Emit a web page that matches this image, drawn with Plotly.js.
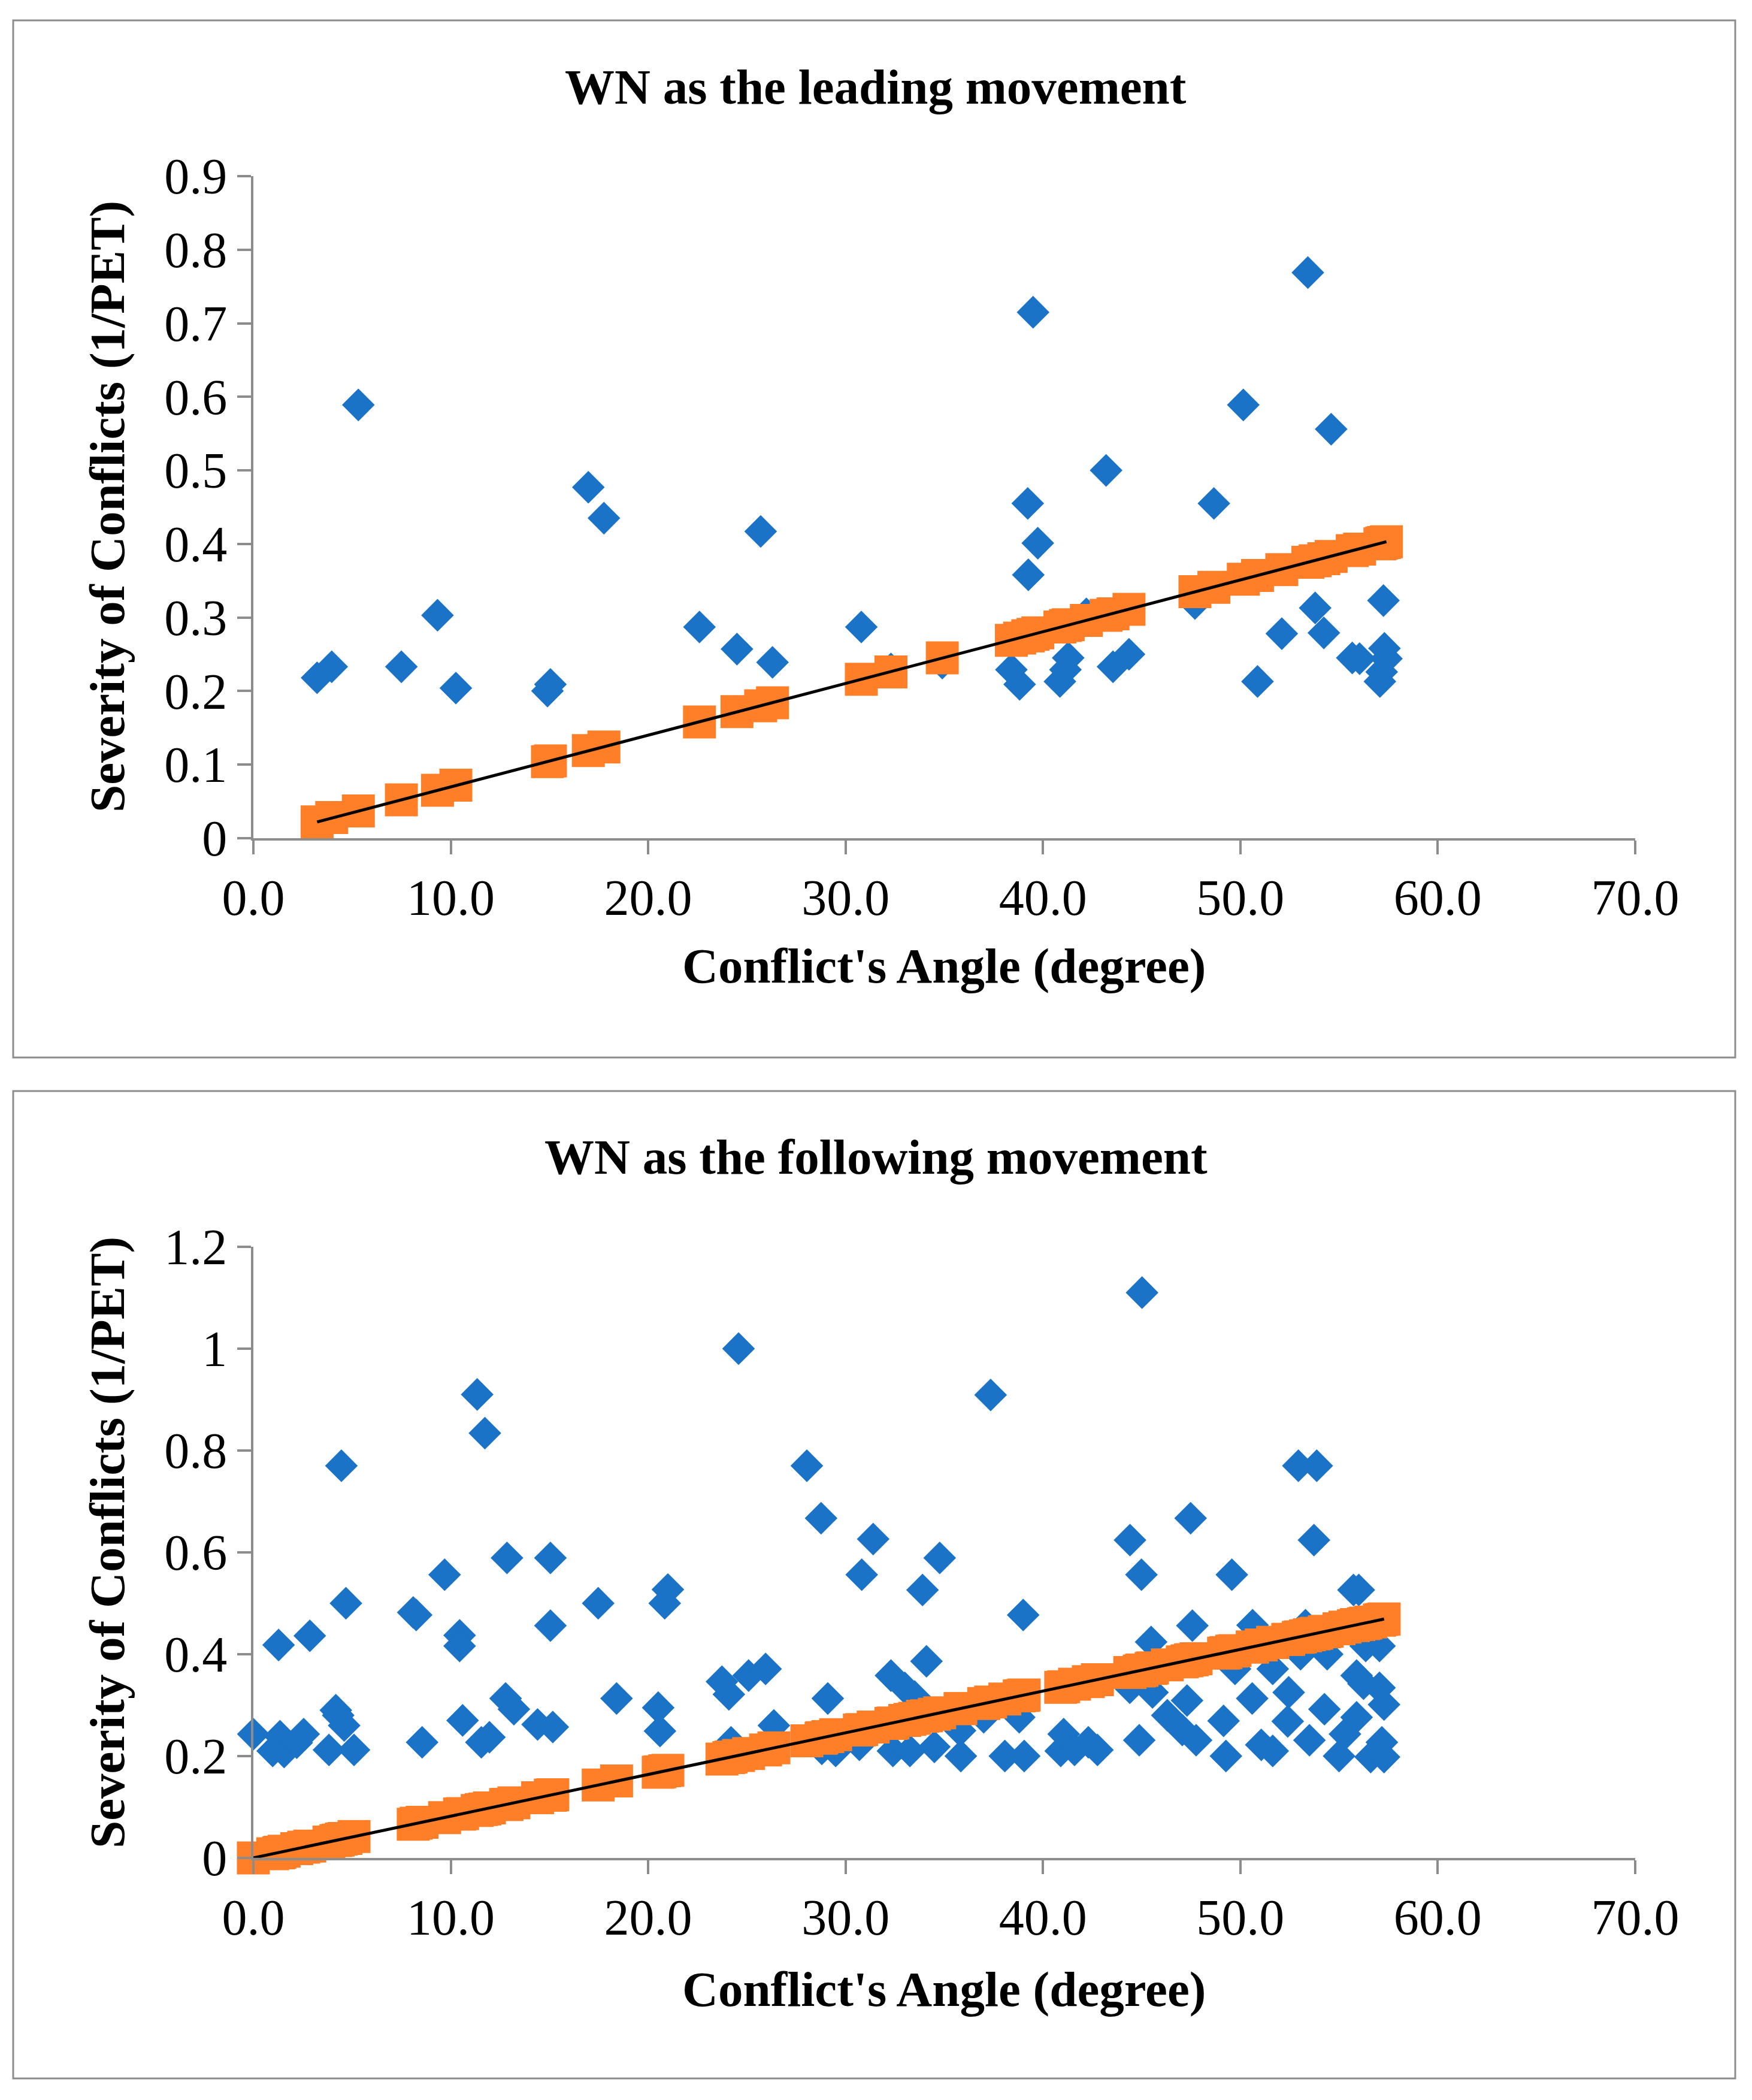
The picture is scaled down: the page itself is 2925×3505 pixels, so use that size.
<!DOCTYPE html>
<html>
<head>
<meta charset="utf-8">
<script src="https://cdn.plot.ly/plotly-3.0.1.min.js"></script>
<style>
  body { margin: 0; background: #fff; }
  #chart { width: 2925px; height: 3505px; }
</style>
</head>
<body>
<div id="chart"></div>
<script>
// top chart: WN as the leading movement
var leadAngle = [3.23, 3.97, 5.32, 7.5, 9.33, 10.26, 14.9, 15.05, 16.97, 17.76,
    22.6, 24.5, 25.7, 26.3, 30.8, 32.3, 34.9, 38.4, 38.82, 39.23,
    39.26, 39.5, 39.74, 40.86, 41.14, 41.28, 42.2, 43.2, 43.55, 44.36,
    47.7, 48.66, 50.15, 50.87, 52.1, 53.42, 53.79, 54.23, 54.6, 55.67,
    56.04, 57.07, 57.16, 57.25, 57.3, 57.4];
var leadSeverity = [0.218, 0.233, 0.589, 0.233, 0.303, 0.204, 0.2, 0.209, 0.477, 0.435,
    0.287, 0.257, 0.417, 0.239, 0.287, 0.23, 0.238, 0.229, 0.209, 0.455,
    0.358, 0.715, 0.401, 0.213, 0.229, 0.245, 0.305, 0.5, 0.233, 0.25,
    0.319, 0.455, 0.589, 0.213, 0.278, 0.769, 0.313, 0.279, 0.556, 0.245,
    0.244, 0.213, 0.226, 0.323, 0.258, 0.244];
var leadPredicted = [0.022, 0.028, 0.037, 0.052, 0.065, 0.072, 0.104, 0.105, 0.119, 0.124,
    0.158, 0.172, 0.180, 0.184, 0.216, 0.226, 0.245, 0.269, 0.272, 0.275,
    0.275, 0.277, 0.279, 0.287, 0.289, 0.290, 0.296, 0.303, 0.305, 0.311,
    0.335, 0.341, 0.352, 0.357, 0.365, 0.375, 0.377, 0.380, 0.383, 0.391,
    0.393, 0.400, 0.401, 0.402, 0.402, 0.403];
var leadTrendX = [3.23, 57.4];
var leadTrendY = [0.022, 0.403];

// bottom chart: WN as the following movement
var followAngle = [0, 1.28, 0.98, 1.56, 1.35, 2.2, 2.55, 2.86, 3.83, 4.18,
    4.3, 4.46, 4.6, 4.69, 5.1, 8.1, 8.25, 8.55, 9.69, 10.45,
    10.45, 10.6, 11.34, 11.73, 11.55, 11.96, 12.85, 12.78, 13.2, 14.4,
    15.05, 15.05, 15.17, 17.47, 18.4, 20.51, 20.6, 20.84, 21.0, 23.74,
    24.09, 24.2, 24.58, 25.09, 25.95, 26.37, 28.04, 28.76, 29.1, 28.8,
    29.5, 30.82, 30.7, 31.4, 32.3, 32.4, 33.0, 33.26, 33.5, 33.9,
    34.1, 34.5, 34.77, 35.84, 35.8, 37.0, 37.35, 38.07, 38.8, 39.0,
    39.05, 40.9, 41.05, 41.6, 42.3, 42.76, 44.4, 44.41, 44.88, 44.99,
    45.02, 45.48, 45.55, 46.3, 47.06, 47.3, 47.48, 47.57, 47.76, 49.15,
    49.27, 49.57, 49.73, 50.6, 50.62, 51.06, 51.64, 51.64, 52.4, 52.45,
    52.94, 53.05, 53.3, 53.5, 53.73, 53.87, 54.26, 54.4, 55.0, 55.3,
    55.73, 56.0, 55.89, 55.89, 56.24, 56.35, 56.6, 57.05, 57.05, 57.17,
    57.28, 57.28];
var followSeverity = [0.243, 0.418, 0.21, 0.208, 0.239, 0.226, 0.243, 0.436, 0.212, 0.29,
    0.28, 0.77, 0.26, 0.5, 0.212, 0.482, 0.477, 0.227, 0.556, 0.437,
    0.416, 0.27, 0.91, 0.834, 0.227, 0.237, 0.589, 0.313, 0.292, 0.262,
    0.589, 0.456, 0.257, 0.5, 0.313, 0.295, 0.249, 0.5, 0.527, 0.346,
    0.321, 0.227, 1.0, 0.358, 0.371, 0.26, 0.77, 0.667, 0.313, 0.214,
    0.21, 0.556, 0.222, 0.626, 0.358, 0.21, 0.334, 0.21, 0.317, 0.526,
    0.386, 0.218, 0.589, 0.2, 0.25, 0.276, 0.909, 0.2, 0.276, 0.477,
    0.2, 0.21, 0.243, 0.212, 0.227, 0.212, 0.334, 0.624, 0.231, 0.556,
    1.11, 0.424, 0.325, 0.28, 0.251, 0.309, 0.667, 0.456, 0.231, 0.269,
    0.2, 0.556, 0.371, 0.313, 0.457, 0.222, 0.21, 0.371, 0.268, 0.325,
    0.77, 0.4, 0.457, 0.231, 0.624, 0.77, 0.292, 0.4, 0.2, 0.243,
    0.526, 0.526, 0.358, 0.276, 0.342, 0.416, 0.198, 0.416, 0.334, 0.227,
    0.301, 0.198];
var followPredicted = [0, 0.010, 0.008, 0.013, 0.011, 0.018, 0.021, 0.023, 0.031, 0.034,
    0.035, 0.037, 0.038, 0.038, 0.042, 0.066, 0.068, 0.070, 0.079, 0.086,
    0.086, 0.087, 0.093, 0.096, 0.095, 0.098, 0.105, 0.105, 0.108, 0.118,
    0.123, 0.123, 0.124, 0.143, 0.151, 0.168, 0.169, 0.171, 0.172, 0.194,
    0.197, 0.198, 0.201, 0.205, 0.212, 0.216, 0.230, 0.235, 0.238, 0.236,
    0.242, 0.252, 0.251, 0.257, 0.264, 0.265, 0.270, 0.272, 0.274, 0.278,
    0.279, 0.282, 0.285, 0.293, 0.293, 0.303, 0.306, 0.312, 0.318, 0.319,
    0.320, 0.335, 0.336, 0.341, 0.346, 0.350, 0.364, 0.364, 0.367, 0.368,
    0.369, 0.372, 0.373, 0.379, 0.385, 0.387, 0.389, 0.389, 0.391, 0.402,
    0.403, 0.406, 0.407, 0.414, 0.414, 0.418, 0.423, 0.423, 0.429, 0.429,
    0.433, 0.434, 0.436, 0.438, 0.440, 0.441, 0.444, 0.445, 0.450, 0.453,
    0.456, 0.458, 0.458, 0.458, 0.460, 0.461, 0.463, 0.467, 0.467, 0.468,
    0.469, 0.469];
var followTrendX = [0, 57.28];
var followTrendY = [0, 0.469];

var blue = '#1a73c6';
var orange = '#fe7f27';
var gray = '#8c8c8c';
var serif = 'Liberation Serif, Times New Roman, serif';

function scatterTrace(x, y, symbol, color, size, xa, ya) {
    return {
        x: x, y: y, xaxis: xa, yaxis: ya,
        type: 'scatter', mode: 'markers', cliponaxis: false,
        marker: {symbol: symbol, color: color, size: size, line: {width: 0}},
        hoverinfo: 'x+y'
    };
}

function trendTrace(x, y, xa, ya) {
    return {
        x: x, y: y, xaxis: xa, yaxis: ya,
        type: 'scatter', mode: 'lines', cliponaxis: false,
        line: {color: '#000', width: 5}
    };
}

var data = [
    scatterTrace(leadAngle, leadSeverity, 'diamond', blue, 42, 'x', 'y'),
    scatterTrace(leadAngle, leadPredicted, 'square', orange, 55, 'x', 'y'),
    trendTrace(leadTrendX, leadTrendY, 'x', 'y'),
    scatterTrace(followAngle, followSeverity, 'diamond', blue, 42, 'x2', 'y2'),
    scatterTrace(followAngle, followPredicted, 'square', orange, 55, 'x2', 'y2'),
    trendTrace(followTrendX, followTrendY, 'x2', 'y2')
];

function xAxis(anchor) {
    return {
        anchor: anchor, domain: [0.1446, 0.9333],
        range: [0, 70], dtick: 10, tick0: 0, tickformat: '.1f',
        showline: true, linecolor: gray, linewidth: 4,
        ticks: 'outside', ticklen: 23, tickwidth: 4, tickcolor: gray,
        showgrid: false, zeroline: false,
        tickfont: {family: serif, size: 84, color: '#000'}
    };
}

function yAxis(anchor, domain, max, step) {
    return {
        anchor: anchor, domain: domain,
        range: [0, max], dtick: step, tick0: 0,
        showline: true, linecolor: gray, linewidth: 4,
        ticks: 'outside', ticklen: 23, tickwidth: 4, tickcolor: gray,
        showgrid: false, zeroline: false,
        tickfont: {family: serif, size: 84, color: '#000'}
    };
}

var boldFont = {family: serif, size: 83, color: '#000', weight: 'bold'};

function label(text, x, y, angle) {
    return {
        text: text, x: x, y: y, xref: 'paper', yref: 'paper',
        xanchor: 'center', yanchor: 'middle', showarrow: false,
        textangle: angle || 0, font: boldFont
    };
}

var layout = {
    width: 2925, height: 3505,
    margin: {l: 0, r: 0, t: 0, b: 0},
    paper_bgcolor: '#fff', plot_bgcolor: '#fff',
    showlegend: false,
    xaxis: xAxis('y'),
    yaxis: yAxis('x', [0.6009, 0.9161], 0.9, 0.1),
    xaxis2: xAxis('y2'),
    yaxis2: yAxis('x2', [0.1153, 0.4063], 1.2, 0.2),
    annotations: [
        label('WN as the leading movement', 1462 / 2925, 1 - 145 / 3505),
        label("Conflict's Angle (degree)", 1576 / 2925, 1 - 1612 / 3505),
        label('Severity of Conflicts (1/PET)', 179 / 2925, 1 - 846 / 3505, -90),
        label('WN as the following movement', 1462 / 2925, 1 - 1931 / 3505),
        label("Conflict's Angle (degree)", 1576 / 2925, 1 - 3320 / 3505),
        label('Severity of Conflicts (1/PET)', 179 / 2925, 1 - 2575 / 3505, -90)
    ],
    shapes: [
        {type: 'rect', xref: 'paper', yref: 'paper',
         x0: 22 / 2925, x1: 2897 / 2925, y0: 1 - 1765 / 3505, y1: 1 - 34 / 3505,
         line: {color: gray, width: 3}},
        {type: 'rect', xref: 'paper', yref: 'paper',
         x0: 22 / 2925, x1: 2897 / 2925, y0: 1 - 3469 / 3505, y1: 1 - 1821 / 3505,
         line: {color: gray, width: 3}}
    ]
};

Plotly.newPlot('chart', data, layout, {staticPlot: true});
</script>
</body>
</html>
